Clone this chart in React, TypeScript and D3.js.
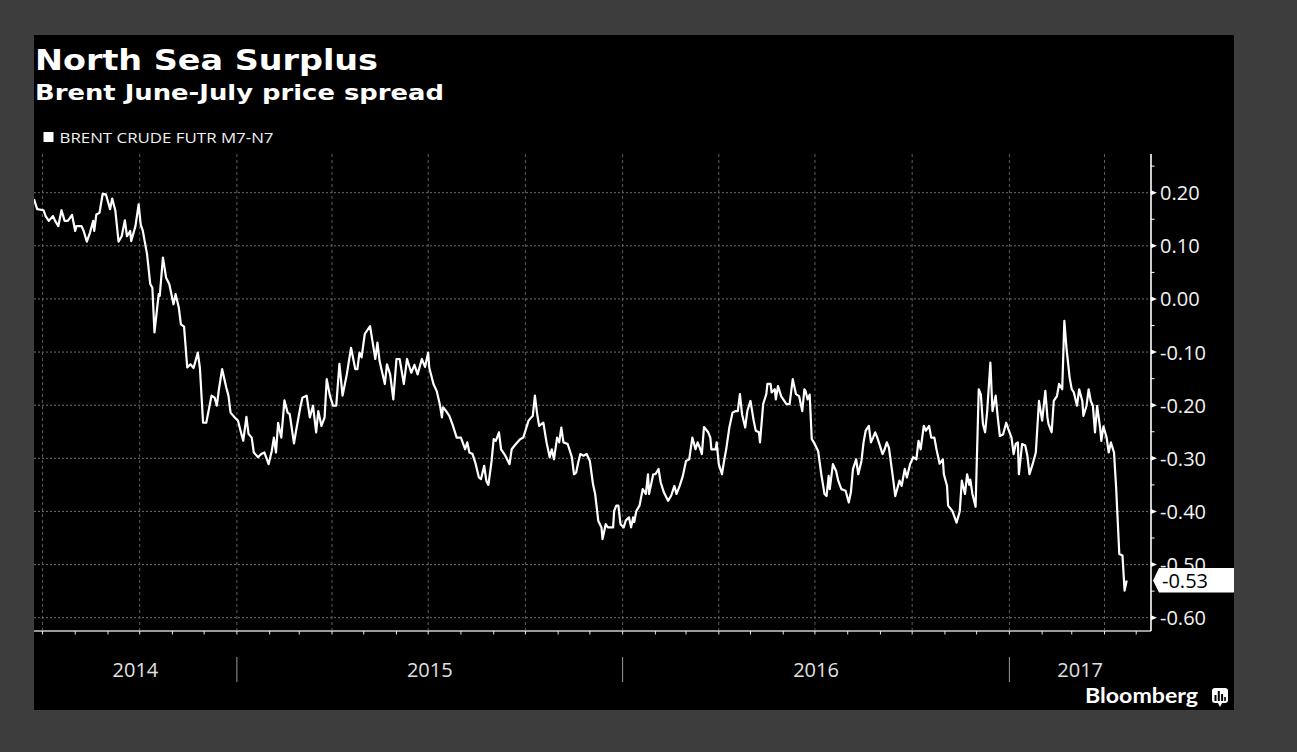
import React from "react";
import * as d3 from "d3";

// ---- Data -----------------------------------------------------------
const title = "North Sea Surplus";
const subtitle = "Brent June-July price spread";
const seriesName = "BRENT CRUDE FUTR M7-N7";
const baseDate = "2014-06-23"; // day 0 of the series
const axisStart = "2014-06-23";
const axisEnd = "2017-05-15";

// [days since baseDate, spread in $/bbl]
const spreadPoints: [number, number][] = [
  [0, 0.188], [3, 0.169], [9, 0.167], [11, 0.156], [14, 0.147], [18, 0.156], [20, 0.147], [23, 0.137],
  [26, 0.167], [29, 0.147], [32, 0.147], [36, 0.158], [39, 0.128], [40, 0.137], [45, 0.137], [47, 0.128],
  [50, 0.108], [53, 0.125], [56, 0.147], [57, 0.128], [59, 0.159], [62, 0.162], [65, 0.198], [68, 0.197],
  [72, 0.169], [74, 0.189], [77, 0.166], [80, 0.108], [83, 0.118], [86, 0.148], [88, 0.118], [91, 0.128],
  [92, 0.109], [96, 0.137], [99, 0.178], [101, 0.14], [103, 0.128], [107, 0.084], [110, 0.028], [112, 0.021],
  [114, -0.063], [118, 0.009], [119, 0.006], [122, 0.078], [125, 0.04], [128, 0.028], [132, -0.01], [134, 0.009],
  [137, -0.016], [139, -0.048], [142, -0.052], [145, -0.129], [148, -0.123], [151, -0.13], [155, -0.101], [157, -0.13],
  [160, -0.233], [163, -0.233], [168, -0.182], [171, -0.186], [173, -0.201], [175, -0.17], [178, -0.132], [182, -0.167],
  [184, -0.182], [186, -0.214], [190, -0.223], [193, -0.229], [195, -0.245], [198, -0.267], [201, -0.222], [203, -0.254],
  [206, -0.261], [208, -0.289], [212, -0.298], [215, -0.292], [218, -0.289], [222, -0.311], [225, -0.286], [227, -0.261],
  [229, -0.289], [231, -0.233], [234, -0.261], [237, -0.191], [240, -0.214], [242, -0.217], [246, -0.272], [248, -0.248],
  [252, -0.204], [254, -0.186], [258, -0.182], [261, -0.223], [264, -0.201], [267, -0.251], [269, -0.211], [272, -0.239],
  [275, -0.223], [277, -0.151], [280, -0.182], [283, -0.201], [286, -0.201], [289, -0.122], [292, -0.182], [296, -0.142],
  [300, -0.092], [304, -0.132], [306, -0.132], [308, -0.101], [310, -0.11], [313, -0.066], [318, -0.051], [320, -0.076],
  [323, -0.113], [325, -0.082], [327, -0.117], [332, -0.16], [334, -0.123], [337, -0.142], [340, -0.189], [343, -0.113],
  [346, -0.113], [350, -0.16], [353, -0.113], [357, -0.139], [360, -0.124], [363, -0.142], [367, -0.113], [370, -0.128],
  [373, -0.101], [374, -0.129], [378, -0.16], [381, -0.173], [384, -0.198], [386, -0.223], [387, -0.204], [390, -0.211],
  [393, -0.22], [396, -0.236], [400, -0.261], [404, -0.261], [408, -0.283], [410, -0.27], [412, -0.289], [415, -0.292],
  [418, -0.311], [421, -0.336], [423, -0.339], [426, -0.314], [428, -0.342], [430, -0.35], [433, -0.305], [435, -0.264],
  [437, -0.267], [440, -0.251], [442, -0.283], [446, -0.295], [450, -0.311], [452, -0.283], [456, -0.273], [460, -0.264],
  [463, -0.261], [465, -0.248], [468, -0.229], [472, -0.22], [474, -0.182], [476, -0.215], [478, -0.239], [482, -0.233],
  [485, -0.27], [488, -0.298], [490, -0.283], [492, -0.302], [495, -0.261], [497, -0.27], [499, -0.242], [501, -0.27],
  [505, -0.273], [509, -0.298], [511, -0.33], [513, -0.327], [515, -0.308], [517, -0.292], [520, -0.295], [523, -0.292],
  [526, -0.305], [529, -0.349], [531, -0.367], [534, -0.418], [537, -0.43], [538, -0.452], [541, -0.424], [543, -0.43],
  [545, -0.43], [548, -0.43], [549, -0.399], [551, -0.389], [553, -0.389], [555, -0.424], [558, -0.43], [560, -0.417],
  [563, -0.411], [565, -0.43], [567, -0.411], [568, -0.42], [570, -0.399], [573, -0.389], [576, -0.358], [579, -0.367],
  [581, -0.33], [582, -0.367], [586, -0.33], [588, -0.33], [591, -0.32], [593, -0.345], [596, -0.364], [600, -0.38],
  [603, -0.37], [606, -0.352], [608, -0.367], [611, -0.352], [614, -0.333], [617, -0.305], [620, -0.302], [623, -0.261],
  [626, -0.283], [628, -0.27], [630, -0.28], [632, -0.292], [634, -0.241], [638, -0.251], [640, -0.261], [641, -0.283],
  [645, -0.283], [646, -0.27], [648, -0.311], [651, -0.33], [653, -0.305], [655, -0.283], [658, -0.242], [661, -0.214],
  [664, -0.211], [666, -0.211], [668, -0.179], [670, -0.217], [673, -0.242], [675, -0.211], [678, -0.192], [681, -0.229],
  [683, -0.248], [686, -0.251], [687, -0.27], [690, -0.198], [693, -0.179], [694, -0.16], [697, -0.16], [698, -0.176],
  [701, -0.17], [702, -0.189], [704, -0.164], [707, -0.183], [709, -0.189], [712, -0.198], [715, -0.198], [718, -0.151],
  [721, -0.179], [724, -0.183], [727, -0.211], [729, -0.17], [730, -0.173], [732, -0.189], [734, -0.18], [736, -0.264],
  [738, -0.27], [742, -0.286], [745, -0.33], [748, -0.367], [750, -0.371], [752, -0.333], [753, -0.358], [756, -0.311],
  [759, -0.324], [761, -0.342], [764, -0.358], [768, -0.361], [771, -0.383], [773, -0.364], [775, -0.32], [778, -0.302],
  [780, -0.33], [783, -0.305], [785, -0.27], [787, -0.248], [790, -0.239], [792, -0.27], [794, -0.261], [796, -0.251],
  [798, -0.261], [803, -0.292], [805, -0.283], [807, -0.27], [809, -0.28], [813, -0.339], [815, -0.371], [819, -0.342],
  [821, -0.352], [824, -0.32], [826, -0.336], [829, -0.311], [832, -0.298], [835, -0.302], [837, -0.267], [839, -0.283],
  [842, -0.239], [844, -0.248], [847, -0.239], [849, -0.261], [852, -0.261], [854, -0.283], [857, -0.31], [860, -0.302],
  [861, -0.33], [864, -0.352], [865, -0.389], [869, -0.399], [873, -0.421], [876, -0.4], [878, -0.342], [881, -0.367],
  [883, -0.33], [885, -0.35], [886, -0.34], [888, -0.367], [891, -0.391], [894, -0.17], [896, -0.18], [898, -0.236],
  [900, -0.251], [902, -0.211], [905, -0.12], [907, -0.211], [910, -0.182], [912, -0.223], [914, -0.258], [917, -0.255],
  [920, -0.233], [922, -0.245], [925, -0.261], [927, -0.292], [929, -0.273], [931, -0.27], [932, -0.33], [935, -0.273],
  [938, -0.276], [940, -0.295], [942, -0.33], [945, -0.311], [948, -0.289], [951, -0.192], [954, -0.229], [957, -0.173],
  [959, -0.223], [960, -0.235], [963, -0.251], [965, -0.192], [968, -0.183], [970, -0.16], [973, -0.17], [975, -0.041],
  [977, -0.092], [980, -0.148], [982, -0.17], [984, -0.176], [987, -0.201], [989, -0.17], [992, -0.192], [993, -0.22],
  [996, -0.201], [998, -0.17], [1000, -0.192], [1002, -0.201], [1004, -0.251], [1006, -0.201], [1009, -0.245], [1010, -0.267],
  [1012, -0.24], [1015, -0.261], [1017, -0.289], [1019, -0.27], [1022, -0.289], [1024, -0.355], [1027, -0.48], [1030, -0.483],
  [1032, -0.549], [1034, -0.53],
];

const yMajorTicks = [0.2, 0.1, 0.0, -0.1, -0.2, -0.3, -0.4, -0.5, -0.6];
const yMinorTicks = [0.25, 0.15, 0.05, -0.05, -0.15, -0.25, -0.35, -0.45, -0.55];
const yearLabels = ["2014", "2015", "2016", "2017"];

// ---- Layout ---------------------------------------------------------
const W = 1297;
const H = 752;
const panel = { x: 34, y: 35, w: 1200, h: 675 };
const plot = { left: 34, right: 1151, top: 154, bottom: 631 };

const fmt = d3.formatLocale({ decimal: ".", thousands: ",", grouping: [3], currency: ["$", ""], minus: "-" }).format(".2f");
const labelFont = "'Open Sans', 'DejaVu Sans', sans-serif";

export default function App() {
  const DAY = 864e5;
  const base = new Date(baseDate + "T00:00:00Z").getTime();
  const data = spreadPoints.map(([d, v]) => ({ date: new Date(base + d * DAY), value: v }));

  const x = d3
    .scaleUtc()
    .domain([new Date(axisStart + "T00:00:00Z"), new Date(axisEnd + "T00:00:00Z")])
    .range([plot.left, plot.right]);
  const y = d3.scaleLinear().domain([0.2, -0.6]).range([192.7, 617.7]);

  const [d0, d1] = x.domain();
  const quarters = d3.utcMonth.every(3)!.range(d0, d1).filter((d) => x(d) > plot.left + 2);
  const months = d3.utcMonth.range(d0, d1).filter((d) => x(d) > plot.left + 2);
  const yearStarts = d3.utcYear.range(d0, d1);

  const line = d3
    .line<{ date: Date; value: number }>()
    .x((d) => x(d.date))
    .y((d) => y(d.value))
    .curve(d3.curveLinear);

  const last = data[data.length - 1];
  const ly = y(last.value);

  const years = yearLabels.map((label) => {
    const yr = +label;
    const a = Math.max(plot.left, x(new Date(Date.UTC(yr, 0, 1))));
    const b = Math.min(plot.right, x(new Date(Date.UTC(yr + 1, 0, 1))));
    return { label, cx: (a + b) / 2 };
  });

  return (
    <svg width={W} height={H} style={{ position: "absolute", left: 0, top: 0 }}>
      <defs>
        <clipPath id="plotClip">
          <rect x={plot.left} y={plot.top} width={plot.right - plot.left} height={plot.bottom - plot.top} />
        </clipPath>
      </defs>
      <rect x={0} y={0} width={W} height={H} fill="#3d3d3d" />
      <rect x={panel.x} y={panel.y} width={panel.w} height={panel.h} fill="#000" />

      {/* titles */}
      <text x={35} y={69.5} fill="#fff" fontFamily="'DejaVu Sans', sans-serif" fontWeight="bold" fontSize={29} textLength={343} lengthAdjust="spacingAndGlyphs">
        {title}
      </text>
      <text x={35} y={99.5} fill="#fff" fontFamily="'DejaVu Sans', sans-serif" fontWeight="bold" fontSize={21.5} textLength={409} lengthAdjust="spacingAndGlyphs">
        {subtitle}
      </text>

      {/* legend */}
      <rect x={43.5} y={132} width={10} height={10} fill="#fff" />
      <text x={59.5} y={142.5} fill="#f0f0f0" fontFamily={labelFont} fontSize={14.5} textLength={214} lengthAdjust="spacingAndGlyphs">
        {seriesName}
      </text>

      {/* horizontal grid */}
      {yMajorTicks.map((t) => (
        <line key={"hg" + t} x1={plot.left} x2={plot.right} y1={y(t)} y2={y(t)} stroke="#6e6e6e" strokeWidth={1} strokeDasharray="2,2" />
      ))}
      {/* vertical grid */}
      {quarters.map((d) => (
        <line key={"vg" + d.getTime()} x1={x(d)} x2={x(d)} y1={plot.top} y2={plot.bottom} stroke="#5e5e5e" strokeWidth={1} strokeDasharray="3,3" />
      ))}

      {/* series */}
      <path d={line(data) || ""} fill="none" stroke="#fff" strokeWidth={2.2} strokeLinejoin="round" clipPath="url(#plotClip)" />

      {/* bottom axis */}
      <line x1={plot.left} x2={plot.right} y1={plot.bottom} y2={plot.bottom} stroke="#9a9a9a" strokeWidth={2} />
      {months.map((d) => (
        <line key={"mt" + d.getTime()} x1={x(d)} x2={x(d)} y1={plot.bottom} y2={plot.bottom + 3.5} stroke="#e8e8e8" strokeWidth={1} />
      ))}
      {yearStarts.map((d) => (
        <line key={"ys" + d.getTime()} x1={x(d)} x2={x(d)} y1={657} y2={682} stroke="#9a9a9a" strokeWidth={1} />
      ))}
      {years.map((yl) => (
        <text key={yl.label} x={yl.cx} y={677} fill="#e0e0e0" fontFamily={labelFont} fontSize={20} textAnchor="middle">
          {yl.label}
        </text>
      ))}

      {/* right axis */}
      <line x1={plot.right} x2={plot.right} y1={plot.top} y2={plot.bottom} stroke="#fff" strokeWidth={1.6} />
      {yMinorTicks.map((t) => (
        <line key={"mn" + t} x1={plot.right} x2={plot.right + 3.5} y1={y(t)} y2={y(t)} stroke="#fff" strokeWidth={1} />
      ))}
      {yMajorTicks.map((t) => (
        <g key={"mj" + t}>
          <path d={`M${plot.right},${y(t) - 2.5} L${plot.right + 6},${y(t)} L${plot.right},${y(t) + 2.5} Z`} fill="#fff" />
          <text x={plot.right + 9} y={y(t) + 7.5} fill="#f2f2f2" fontFamily={labelFont} fontSize={20}>
            {fmt(t)}
          </text>
        </g>
      ))}

      {/* last value tag */}
      <path d={`M${plot.right + 2},${ly} L${plot.right + 8},${ly - 12.5} L${panel.x + panel.w},${ly - 12.5} L${panel.x + panel.w},${ly + 12} L${plot.right + 8},${ly + 12} Z`} fill="#fff" />
      <text x={plot.right + 11} y={ly + 7.5} fill="#000" fontFamily={labelFont} fontSize={20}>
        {fmt(last.value)}
      </text>

      {/* Bloomberg logo */}
      <text x={1085} y={703} fill="#fff" fontFamily="Lato, 'Open Sans', sans-serif" fontWeight={700} fontSize={21} textLength={113} lengthAdjust="spacingAndGlyphs">
        Bloomberg
      </text>
      <g>
        <rect x={1212} y={688} width={16} height={15} rx={3} fill="#fff" />
        <path d="M1218,703 L1222,703 L1220,707 Z" fill="#fff" />
        <rect x={1214.5} y={695} width={2} height={6} fill="#000" />
        <rect x={1217.8} y={691} width={2} height={10} fill="#000" />
        <rect x={1221.1} y={694} width={2} height={7} fill="#000" />
        <rect x={1224.2} y={697} width={1.6} height={4} fill="#000" />
      </g>
    </svg>
  );
}
